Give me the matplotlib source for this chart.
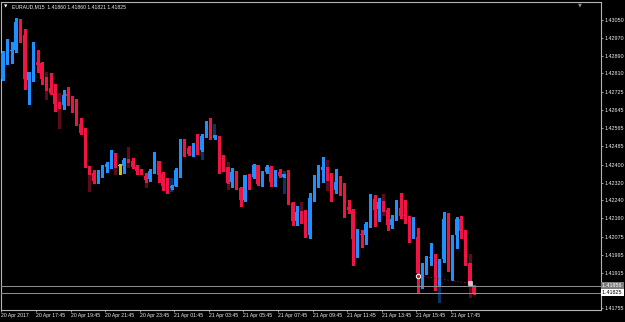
import matplotlib
matplotlib.use("Agg")
import matplotlib.pyplot as plt
import numpy as np

# EURAUD M15, 20 Apr 2017 15:45 .. 21 Apr 2017 ~19:00
SYMBOL = "EURAUD,M15"

opens = [1.42785, 1.42897, 1.42909, 1.42916, 1.43040, 1.42984, 1.42780, 1.42814, 1.42861, 1.42855,
         1.42788, 1.42745, 1.42724, 1.42673, 1.42669, 1.42718, 1.42708, 1.42668, 1.42581, 1.42543,
         1.42394, 1.42363, 1.42336, 1.42346, 1.42388, 1.42394, 1.42447, 1.42394, 1.42394, 1.42422,
         1.42417, 1.42391, 1.42372, 1.42351, 1.42335, 1.42367, 1.42417, 1.42357, 1.42309, 1.42294,
         1.42306, 1.42373, 1.42493, 1.42474, 1.42451, 1.42496, 1.42466, 1.42529, 1.42586, 1.42519,
         1.42529, 1.42404, 1.42388, 1.42321, 1.42366, 1.42296, 1.42242, 1.42354, 1.42346, 1.42398,
         1.42317, 1.42366, 1.42391, 1.42321, 1.42369, 1.42346, 1.42358, 1.42227, 1.42147, 1.42189,
         1.42144, 1.42084, 1.42249, 1.42327, 1.42376, 1.42388, 1.42332, 1.42286, 1.42321, 1.42305,
         1.42211, 1.42199, 1.42065, 1.42089, 1.42084, 1.42125, 1.42245, 1.42202, 1.42234, 1.42199,
         1.42130, 1.42155, 1.42207, 1.42174, 1.42170, 1.42072, 1.42074, 1.41910, 1.41947, 1.41982,
         1.41982, 1.41864, 1.41975, 1.42156, 1.41924, 1.42084, 1.42156, 1.42103, 1.41957, 1.41860]

highs = [1.42913, 1.42965, 1.42950, 1.43058, 1.43054, 1.43008, 1.42818, 1.42950, 1.42916, 1.42860,
         1.42792, 1.42814, 1.42762, 1.42681, 1.42734, 1.42748, 1.42709, 1.42695, 1.42610, 1.42565,
         1.42394, 1.42378, 1.42376, 1.42398, 1.42414, 1.42466, 1.42451, 1.42404, 1.42432, 1.42424,
         1.42429, 1.42398, 1.42379, 1.42361, 1.42379, 1.42459, 1.42419, 1.42369, 1.42339, 1.42309,
         1.42384, 1.42515, 1.42515, 1.42483, 1.42497, 1.42538, 1.42538, 1.42596, 1.42612, 1.42535,
         1.42531, 1.42444, 1.42389, 1.42384, 1.42372, 1.42298, 1.42355, 1.42358, 1.42404, 1.42400,
         1.42373, 1.42398, 1.42394, 1.42376, 1.42381, 1.42360, 1.42376, 1.42234, 1.42215, 1.42191,
         1.42196, 1.42274, 1.42354, 1.42398, 1.42434, 1.42390, 1.42364, 1.42381, 1.42349, 1.42317,
         1.42242, 1.42202, 1.42112, 1.42109, 1.42144, 1.42267, 1.42264, 1.42249, 1.42237, 1.42204,
         1.42174, 1.42242, 1.42274, 1.42242, 1.42172, 1.42167, 1.42118, 1.41957, 1.41992, 1.42050,
         1.42000, 1.41979, 1.42189, 1.42182, 1.42086, 1.42167, 1.42170, 1.42109, 1.41959, 1.41860]

lows = [1.42780, 1.42851, 1.42858, 1.42907, 1.42950, 1.42740, 1.42671, 1.42777, 1.42817, 1.42761,
        1.42737, 1.42718, 1.42641, 1.42656, 1.42649, 1.42668, 1.42638, 1.42578, 1.42537, 1.42389,
        1.42358, 1.42318, 1.42320, 1.42343, 1.42369, 1.42386, 1.42391, 1.42358, 1.42364, 1.42414,
        1.42385, 1.42357, 1.42358, 1.42323, 1.42329, 1.42363, 1.42324, 1.42286, 1.42274, 1.42290,
        1.42303, 1.42344, 1.42441, 1.42444, 1.42439, 1.42450, 1.42464, 1.42524, 1.42516, 1.42517,
        1.42361, 1.42373, 1.42318, 1.42301, 1.42291, 1.42215, 1.42239, 1.42289, 1.42342, 1.42309,
        1.42305, 1.42361, 1.42305, 1.42305, 1.42346, 1.42344, 1.42223, 1.42130, 1.42130, 1.42139,
        1.42074, 1.42069, 1.42239, 1.42301, 1.42324, 1.42330, 1.42237, 1.42272, 1.42264, 1.42164,
        1.42182, 1.41950, 1.41987, 1.42029, 1.42044, 1.42119, 1.42125, 1.42147, 1.42194, 1.42107,
        1.42115, 1.42152, 1.42159, 1.42137, 1.42052, 1.42070, 1.41830, 1.41845, 1.41910, 1.41950,
        1.41838, 1.41862, 1.41964, 1.41922, 1.41882, 1.42025, 1.42069, 1.41950, 1.41865, 1.41821]

closes = [1.42903, 1.42916, 1.42916, 1.43040, 1.42982, 1.42785, 1.42815, 1.42860, 1.42850, 1.42785,
          1.42740, 1.42724, 1.42673, 1.42664, 1.42712, 1.42709, 1.42668, 1.42580, 1.42541, 1.42391,
          1.42363, 1.42329, 1.42351, 1.42391, 1.42404, 1.42447, 1.42394, 1.42394, 1.42422, 1.42417,
          1.42388, 1.42373, 1.42364, 1.42332, 1.42373, 1.42417, 1.42354, 1.42306, 1.42294, 1.42305,
          1.42376, 1.42493, 1.42474, 1.42448, 1.42496, 1.42466, 1.42531, 1.42586, 1.42519, 1.42534,
          1.42398, 1.42386, 1.42320, 1.42366, 1.42296, 1.42242, 1.42354, 1.42346, 1.42398, 1.42314,
          1.42369, 1.42391, 1.42321, 1.42369, 1.42351, 1.42358, 1.42227, 1.42147, 1.42189, 1.42142,
          1.42084, 1.42249, 1.42327, 1.42376, 1.42388, 1.42332, 1.42286, 1.42321, 1.42296, 1.42211,
          1.42196, 1.42065, 1.42089, 1.42084, 1.42134, 1.42252, 1.42199, 1.42234, 1.42196, 1.42130,
          1.42156, 1.42207, 1.42170, 1.42170, 1.42074, 1.42077, 1.41913, 1.41950, 1.41987, 1.41987,
          1.41864, 1.41976, 1.42156, 1.41924, 1.42084, 1.42156, 1.42103, 1.41954, 1.41867, 1.41825]

# faint second series showing through behind some bars (hi, lo)
dark_wicks = {10: (1.42818, 1.42695), 13: (1.42724, 1.42564), 20: (1.42394, 1.42283),
              26: (1.42447, 1.42357), 29: (1.42481, 1.42388), 33: (1.42351, 1.42301),
              46: (1.42466, 1.42425), 52: (1.42414, 1.42291), 65: (1.42373, 1.42272),
              69: (1.42234, 1.42189), 75: (1.42422, 1.42286), 88: (1.42268, 1.42174),
              101: (1.41864, 1.41785), 108: (1.42000, 1.41805)}
dark_bodies = {39: (1.42342, 1.42279), 49: (1.42583, 1.42519)}

price_ticks = [1.43050, 1.42970, 1.42890, 1.42810, 1.42725, 1.42645, 1.42565, 1.42485, 1.42400,
               1.42320, 1.42240, 1.42160, 1.42075, 1.41995, 1.41915, 1.41755]
time_bars = [0, 8, 16, 24, 32, 40, 48, 56, 64, 72, 80, 88, 96, 104]
time_labels = ["20 Apr 2017", "20 Apr 17:45", "20 Apr 19:45", "20 Apr 21:45", "20 Apr 23:45",
               "21 Apr 01:45", "21 Apr 03:45", "21 Apr 05:45", "21 Apr 07:45", "21 Apr 09:45",
               "21 Apr 11:45", "21 Apr 13:45", "21 Apr 15:45", "21 Apr 17:45"]

ask_price = 1.41856
bid_price = 1.41825
trade_open = (96, 1.41902)
trade_close = (108, 1.41867)

BULL = "#1e90ff"
BEAR = "#ee1444"
DOJI = "#c8c800"
BULL_DARK = "#0b3464"
BEAR_DARK = "#5c0a1c"
AXIS = "#b4b4b4"
TEXT = "#f0f0f0"

plt.rcParams["font.family"] = ["Liberation Sans", "DejaVu Sans"]

W, H = 625, 322
fig = plt.figure(figsize=(W / 100, H / 100), dpi=100, facecolor="black")
ax = fig.add_axes([1.5 / W, 1 - 309.5 / H, 599.5 / W, 307.5 / H], facecolor="black")

o = np.array(opens)
h = np.array(highs)
l = np.array(lows)
c = np.array(closes)
x = np.arange(len(o))

colors = np.where(c > o, BULL, np.where(c < o, BEAR, DOJI))
dark_of = {BULL: BULL_DARK, BEAR: BEAR_DARK, DOJI: DOJI}

for i, (hi, lo) in dark_wicks.items():
    ax.vlines(i, lo, hi, color=dark_of[colors[i]], linewidth=0.75, zorder=1, antialiased=False)
for i, (hi, lo) in dark_bodies.items():
    ax.bar(i, hi - lo, bottom=lo, width=0.7, color=dark_of[colors[i]], linewidth=0,
           zorder=1, antialiased=False)

ax.vlines(x, l, h, colors=colors, linewidth=0.75, zorder=2, antialiased=False)
body_lo = np.minimum(o, c)
body_h = np.maximum(np.abs(c - o), 0.00003)
ax.bar(x, body_h, bottom=body_lo, width=0.7, color=colors, linewidth=0, zorder=3,
       antialiased=False)

# bid / ask lines
for p in (ask_price, bid_price):
    ax.axhline(p, color="#8c8c8c", linewidth=0.75, zorder=4)

# closed trade
ax.plot([trade_open[0], trade_close[0]], [trade_open[1], trade_close[1]], linestyle=(0, (1, 2)),
        color="#a01020", linewidth=0.8, zorder=5)
ax.plot(*trade_open, marker="o", markersize=3.2, markerfacecolor="#e01020",
        markeredgecolor="white", markeredgewidth=0.7, zorder=6)
ax.plot(*trade_close, marker="s", markersize=2.8, markerfacecolor="#e8b8d8",
        markeredgecolor="#ffffff", markeredgewidth=0.4, zorder=6)

ax.set_xlim(-0.35, 138.4)
ax.set_ylim(1.41750, 1.43131)

for s in ax.spines.values():
    s.set_color(AXIS)
    s.set_linewidth(0.8)

ax.yaxis.tick_right()
ax.set_yticks(price_ticks)
ax.set_yticklabels(["%.5f" % p for p in price_ticks])
ax.tick_params(axis="y", length=1.5, width=0.6, color=AXIS, labelsize=3.9, labelcolor=TEXT, pad=0.8)

ax.set_xticks([b - 0.35 for b in time_bars])
ax.set_xticklabels(time_labels, ha="left")
ax.tick_params(axis="x", length=1.5, width=0.6, color=AXIS, labelsize=3.7, labelcolor=TEXT, pad=0.8)

# price boxes on the right scale
ax.text(1.0015, ask_price, "%.5f " % ask_price, transform=ax.get_yaxis_transform(), fontsize=3.9,
        color="white", va="center", ha="left",
        bbox=dict(boxstyle="square,pad=0.2", facecolor="#7c7c7c", edgecolor="none"))
ax.text(1.0015, bid_price, "%.5f " % bid_price, transform=ax.get_yaxis_transform(), fontsize=3.9,
        color="black", va="center", ha="left",
        bbox=dict(boxstyle="square,pad=0.2", facecolor="white", edgecolor="none"))

# chart header
fig.text(12 / W, 1 - 7 / H, "%s  %.5f %.5f %.5f %.5f" % (SYMBOL, opens[-1], highs[-1], lows[-1], closes[-1]),
         fontsize=3.7, color=TEXT, va="center", ha="left")
fig.text(6 / W, 1 - 6.5 / H, "\u25bc", fontsize=3.2, color="white", va="center", ha="center",
         family="DejaVu Sans")
fig.text(580 / W, 1 - 4.5 / H, "\u25bc", fontsize=3.6, color="#8c8c8c", va="center", ha="center",
         family="DejaVu Sans")

fig.savefig("out.png", dpi=100, facecolor="black")
